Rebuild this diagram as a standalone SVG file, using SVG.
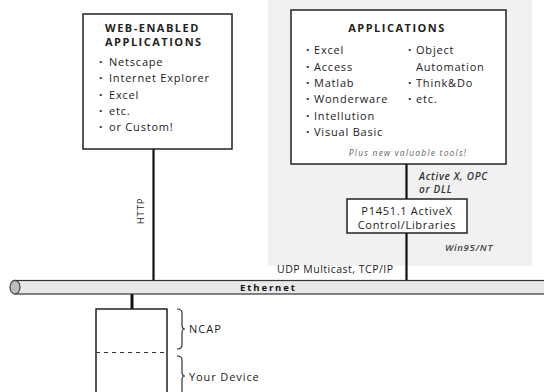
<svg xmlns="http://www.w3.org/2000/svg" width="544" height="392" viewBox="0 0 544 392">
<style>
text{font-family:"Open Sans","DejaVu Sans",sans-serif;fill:#222;}
.t{font-size:11px;font-weight:bold;letter-spacing:1.5px;}
.b{font-size:11px;letter-spacing:0.8px;}
.d{font-size:12px;font-weight:bold;fill:#444;}
.i{font-size:10px;font-style:italic;font-weight:600;fill:#333;letter-spacing:0.7px;}
.box{fill:#fff;stroke:#222;stroke-width:1.5;}
.ln{stroke:#111;stroke-width:2.2;fill:none;}
.br{stroke:#333;stroke-width:1.2;fill:none;}
</style>
<rect x="0" y="0" width="544" height="392" fill="#fff"/>
<rect x="268" y="0" width="264" height="266" fill="#f1f1f1"/>

<g id="connectors">
<line class="ln" x1="153.5" y1="149" x2="153.5" y2="281"/>
<line class="ln" x1="406.5" y1="164" x2="406.5" y2="199"/>
<line class="ln" x1="406.5" y1="233" x2="406.5" y2="281"/>
<line x1="132" y1="294" x2="132" y2="309" stroke="#111" stroke-width="3"/>
<text x="0" y="0" transform="translate(143.5 211) rotate(-90)" text-anchor="middle" style="font-size:9.5px;letter-spacing:0.8px">HTTP</text>
<text x="419" y="180" class="i">Active X, OPC</text>
<text x="419" y="193" class="i">or DLL</text>
<text x="445" y="251" class="i" style="font-size:9.5px;fill:#444;letter-spacing:0.7px">Win95/NT</text>
<text x="277" y="273" style="font-size:10.5px;letter-spacing:0.5px">UDP Multicast, TCP/IP</text>
</g>

<g id="web-apps">
<rect class="box" x="83" y="14" width="149" height="135"/>
<text x="105" y="32" class="t">WEB-ENABLED</text>
<text x="105" y="46" class="t">APPLICATIONS</text>
<g class="d">
<text x="99" y="66">·</text>
<text x="99" y="82">·</text>
<text x="99" y="99">·</text>
<text x="99" y="115">·</text>
<text x="99" y="131">·</text>
</g>
<g class="b">
<text x="109" y="66">Netscape</text>
<text x="109" y="82">Internet Explorer</text>
<text x="109" y="99">Excel</text>
<text x="109" y="115">etc.</text>
<text x="109" y="131">or Custom!</text>
</g>
</g>

<g id="applications">
<rect class="box" x="291" y="10" width="215" height="154"/>
<text x="397" y="32" class="t" text-anchor="middle">APPLICATIONS</text>
<g class="d">
<text x="306" y="54">·</text>
<text x="306" y="71">·</text>
<text x="306" y="87">·</text>
<text x="306" y="103">·</text>
<text x="306" y="120">·</text>
<text x="306" y="136">·</text>
<text x="408" y="54">·</text>
<text x="408" y="87">·</text>
<text x="408" y="103">·</text>
</g>
<g class="b">
<text x="314" y="54">Excel</text>
<text x="314" y="71">Access</text>
<text x="314" y="87">Matlab</text>
<text x="314" y="103">Wonderware</text>
<text x="314" y="120">Intellution</text>
<text x="314" y="136">Visual Basic</text>
<text x="416" y="54">Object</text>
<text x="416" y="71">Automation</text>
<text x="416" y="87">Think&amp;Do</text>
<text x="416" y="103">etc.</text>
</g>
<text x="408" y="156" text-anchor="middle" style="font-size:8.5px;font-style:italic;fill:#666;letter-spacing:1.2px">Plus new valuable tools!</text>
</g>

<g id="p1451">
<rect class="box" x="347" y="199" width="120" height="34"/>
<text x="407" y="215" text-anchor="middle" style="font-size:11px;letter-spacing:0.7px">P1451.1 ActiveX</text>
<text x="407" y="229" text-anchor="middle" style="font-size:11px;letter-spacing:0.7px">Control/Libraries</text>
</g>

<g id="ethernet">
<rect x="15" y="280.5" width="532" height="13.5" fill="#e8e8e8" stroke="#333" stroke-width="1.2"/>
<ellipse cx="15" cy="287.2" rx="5" ry="6.8" fill="#bdbdbd" stroke="#444" stroke-width="1.2"/>
<text x="240" y="291" style="font-size:9.5px;font-weight:bold;letter-spacing:1.9px;fill:#111">Ethernet</text>
</g>

<g id="device">
<path d="M96 392 V309 H167 V392" fill="#fff" stroke="#222" stroke-width="1.5"/>
<line x1="96" y1="352.5" x2="167" y2="352.5" stroke="#333" stroke-width="1.2" stroke-dasharray="4,4"/>
<path class="br" d="M177 309 Q182 309 182 313 V325 Q182 329 185 329 Q182 329 182 333 V345 Q182 349 177 349"/>
<text x="189" y="333" style="font-size:11px;letter-spacing:1px">NCAP</text>
<path class="br" d="M177 356 Q182 356 182 360 V372 Q182 376 185 376 Q182 376 182 380 V392"/>
<text x="189" y="381" style="font-size:11px;letter-spacing:0.9px">Your Device</text>
</g>
</svg>
